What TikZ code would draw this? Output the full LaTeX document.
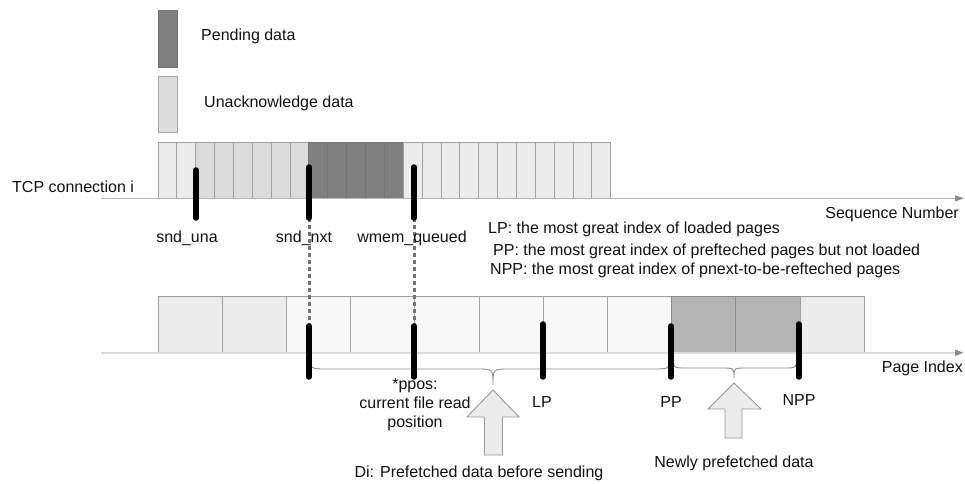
\documentclass[tikz,border=0pt]{standalone}
\usepackage{fontspec}
\setmainfont{Liberation Sans}
\usetikzlibrary{arrows.meta}

\definecolor{lightcell}{HTML}{ECECEC}
\definecolor{unackcell}{HTML}{DCDCDC}
\definecolor{pendcell}{HTML}{808080}
\definecolor{paleccell}{HTML}{F8F8F8}
\definecolor{prefcell}{HTML}{B4B4B4}
\definecolor{cellline}{HTML}{A0A0A0}
\definecolor{txt}{HTML}{111111}

\tikzset{
  lbl/.style={inner sep=0pt, text=txt, font=\fontsize{16}{19}\selectfont},
  cellbox/.style={draw=cellline, line width=0.8pt},
  axisline/.style={line width=1pt, draw=black!28,
    -{Triangle[length=9pt, width=6pt, fill=black!45, color=black!45]}},
  pageaxis/.style={line width=2pt, draw=black!14,
    -{Triangle[length=9pt, width=6pt, fill=black!45, color=black!45]}},
  marker/.style={line width=5.5pt, line cap=round, draw=black},
  guide/.style={line width=3pt, draw=black!55, dash pattern=on 4pt off 3pt},
  bracepath/.style={line width=0.9pt, draw=black!45},
  blockarrow/.style={fill=lightcell, draw=black!40, line width=0.9pt, line join=miter}
}

\begin{document}
\begin{tikzpicture}[x=1pt, y=-1pt]
\useasboundingbox (0,0) rectangle (965,483);

% legend
\draw[cellbox, fill=pendcell, draw=black!55] (158,10) rectangle (177,67);
\node[lbl, anchor=west] (legpend) at (201,36) {Pending data};
\draw[cellbox, fill=unackcell, draw=black!35] (158,76) rectangle (177,132);
\node[lbl, anchor=west] (legunack) at (204,103) {Unacknowledge data};

% sequence-number strip (24 slots)
\def\tw{18.86}
\foreach \i in {0,1} \draw[cellbox, fill=lightcell] ({158+\i*\tw},142) rectangle ++(\tw,56.3);
\foreach \i in {2,...,7} \draw[cellbox, fill=unackcell] ({158+\i*\tw},142) rectangle ++(\tw,56.3);
\foreach \i in {8,...,12} \draw[cellbox, fill=pendcell, draw=black!55] ({158+\i*\tw},142) rectangle ++(\tw,56.3);
\foreach \i in {13,...,23} \draw[cellbox, fill=lightcell] ({158+\i*\tw},142) rectangle ++(\tw,56.3);

\coordinate (seqstart) at (101,198.3);
\coordinate (seqend) at (964,198.3);
\draw[axisline] (seqstart) -- (seqend);

% page strip (11 pages)
\def\pw{64.2}
\foreach \i in {0,1} \draw[cellbox, fill=lightcell] ({158+\i*\pw},296) rectangle ++(\pw,56.5);
\foreach \i in {2,...,7} \draw[cellbox, fill=paleccell] ({158+\i*\pw},296) rectangle ++(\pw,56.5);
\foreach \i in {8,9} \draw[cellbox, fill=prefcell, draw=black!45] ({158+\i*\pw},296) rectangle ++(\pw,56.5);
\foreach \i in {10} \draw[cellbox, fill=lightcell] ({158+\i*\pw},296) rectangle ++(\pw,56.5);

\coordinate (pagestart) at (101,352.7);
\coordinate (pageend) at (964,352.7);
\draw[pageaxis] (pagestart) -- (pageend);

% marker end points
\coordinate (unaT) at (196,170);   \coordinate (unaB) at (196,218);
\coordinate (nxtT) at (309,167);   \coordinate (nxtB) at (309,218);
\coordinate (wmemT) at (414,167);  \coordinate (wmemB) at (414,218);
\coordinate (nxtPT) at (309,326);  \coordinate (nxtPB) at (309,377);
\coordinate (pposT) at (414,326);  \coordinate (pposB) at (414,377);
\coordinate (lpT) at (543,324);    \coordinate (lpB) at (543,377);
\coordinate (ppT) at (671,326);    \coordinate (ppB) at (671,377);
\coordinate (nppT) at (799,324);   \coordinate (nppB) at (799,377);

% guides between the two strips
\draw[guide] (nxtB) -- (nxtPT);
\draw[guide] (wmemB) -- (pposT);

% braces under the page axis
\draw[bracepath] (310,353) .. controls (310,369) .. (326,369) -- (477,369)
  .. controls (493,369) .. (493,385) .. controls (493,369) .. (509,369)
  -- (654,369) .. controls (670,369) .. (670,353);
\draw[bracepath] (673,353) .. controls (673,368) .. (686,368) -- (722,368)
  .. controls (734,368) .. (734,378) .. controls (734,368) .. (746,368)
  -- (784,368) .. controls (797,368) .. (797,353);

% markers
\draw[marker] (unaT) -- (unaB);
\draw[marker] (nxtT) -- (nxtB);
\draw[marker] (wmemT) -- (wmemB);
\draw[marker] (nxtPT) -- (nxtPB);
\draw[marker] (pposT) -- (pposB);
\draw[marker] (lpT) -- (lpB);
\draw[marker] (ppT) -- (ppB);
\draw[marker] (nppT) -- (nppB);

% block arrows
\draw[blockarrow] (493,390) -- (519,417) -- (502.5,417) -- (502.5,455)
  -- (484.5,455) -- (484.5,417) -- (467,417) -- cycle;
\draw[blockarrow] (734,383) -- (761,409) -- (742,409) -- (742,438)
  -- (725,438) -- (725,409) -- (708,409) -- cycle;

% labels
\node[lbl, anchor=west] (tcp) at (12,187) {TCP connection i};
\node[lbl] (una) at (187,238) {snd\_una};
\node[lbl] (nxt) at (304,238) {snd\_nxt};
\node[lbl] (wmem) at (412,238) {wmem\_queued};
\node[lbl, anchor=east] (seqlbl) at (959,214) {Sequence Number};
\node[lbl, anchor=west] (lpdef) at (488,229) {LP: the most great index of loaded pages};
\node[lbl, anchor=west] (ppdef) at (493,251) {PP: the most great index of prefteched pages but not loaded};
\node[lbl, anchor=west] (nppdef) at (490,270) {NPP: the most great index of pnext-to-be-refteched pages};
\node[lbl, anchor=east] (pagelbl) at (963,368) {Page Index};
\node[lbl, align=center] (ppos) at (415,405) {*ppos:\\current file read\\position};
\node[lbl] (lp) at (542,402) {LP};
\node[lbl] (pp) at (671,402) {PP};
\node[lbl] (npp) at (799,400) {NPP};
\node[lbl] (di) at (479,473) {Di: Prefetched data before sending};
\node[lbl] (newly) at (734,463) {Newly prefetched data};
\end{tikzpicture}
\end{document}
